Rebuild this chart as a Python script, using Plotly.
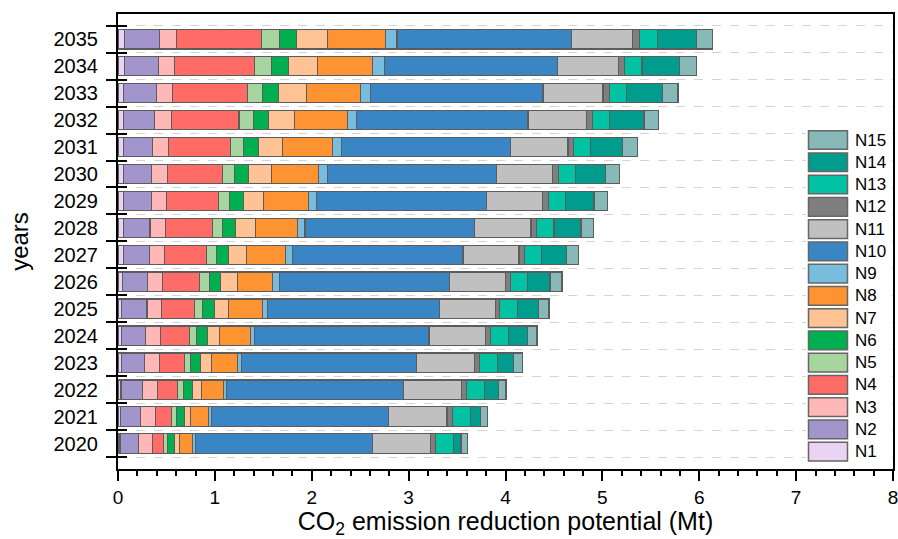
import plotly.graph_objects as go

# Years shown on the vertical axis (bottom to top)
years = [2020, 2021, 2022, 2023, 2024, 2025, 2026, 2027,
         2028, 2029, 2030, 2031, 2032, 2033, 2034, 2035]

series_names = ["N1", "N2", "N3", "N4", "N5", "N6", "N7", "N8",
                "N9", "N10", "N11", "N12", "N13", "N14", "N15"]

# CO2 emission reduction potential (Mt) of each measure, per year
n1 = [0.020, 0.022, 0.030, 0.033, 0.040, 0.040, 0.047, 0.054,
      0.054, 0.054, 0.057, 0.060, 0.060, 0.060, 0.070, 0.070]
n2 = [0.195, 0.213, 0.223, 0.237, 0.247, 0.260, 0.261, 0.268,
      0.276, 0.289, 0.292, 0.299, 0.320, 0.337, 0.345, 0.360]
n3 = [0.144, 0.152, 0.151, 0.155, 0.155, 0.149, 0.151, 0.158,
      0.160, 0.157, 0.162, 0.165, 0.169, 0.169, 0.168, 0.170]
n4 = [0.114, 0.165, 0.213, 0.258, 0.293, 0.337, 0.385, 0.433,
      0.485, 0.534, 0.571, 0.640, 0.701, 0.767, 0.827, 0.880]
n5 = [0.035, 0.052, 0.059, 0.068, 0.078, 0.086, 0.097, 0.100,
      0.105, 0.114, 0.123, 0.134, 0.148, 0.161, 0.174, 0.190]
n6 = [0.075, 0.079, 0.090, 0.100, 0.107, 0.121, 0.117, 0.131,
      0.136, 0.144, 0.142, 0.152, 0.158, 0.162, 0.172, 0.175]
n7 = [0.049, 0.068, 0.093, 0.111, 0.130, 0.144, 0.172, 0.182,
      0.200, 0.210, 0.234, 0.248, 0.262, 0.286, 0.300, 0.315]
n8 = [0.137, 0.186, 0.233, 0.271, 0.314, 0.351, 0.368, 0.406,
      0.440, 0.467, 0.491, 0.516, 0.547, 0.561, 0.574, 0.600]
n9 = [0.028, 0.025, 0.028, 0.041, 0.046, 0.052, 0.069, 0.068,
      0.074, 0.083, 0.087, 0.093, 0.099, 0.106, 0.120, 0.120]
n10 = [1.829, 1.833, 1.830, 1.810, 1.800, 1.778, 1.757, 1.762,
       1.750, 1.748, 1.744, 1.747, 1.769, 1.779, 1.790, 1.800]
n11 = [0.602, 0.602, 0.598, 0.596, 0.586, 0.578, 0.575, 0.578,
       0.584, 0.584, 0.584, 0.592, 0.602, 0.619, 0.630, 0.630]
n12 = [0.052, 0.052, 0.052, 0.054, 0.051, 0.044, 0.051, 0.055,
       0.055, 0.059, 0.059, 0.058, 0.059, 0.063, 0.060, 0.075]
n13 = [0.186, 0.189, 0.185, 0.182, 0.183, 0.186, 0.180, 0.175,
       0.181, 0.178, 0.179, 0.175, 0.181, 0.178, 0.180, 0.180]
n14 = [0.074, 0.103, 0.139, 0.169, 0.193, 0.214, 0.230, 0.260,
       0.280, 0.293, 0.309, 0.331, 0.355, 0.372, 0.390, 0.405]
n15 = [0.070, 0.075, 0.082, 0.093, 0.103, 0.110, 0.124, 0.125,
       0.130, 0.141, 0.145, 0.154, 0.148, 0.160, 0.170, 0.170]

series_values = [n1, n2, n3, n4, n5, n6, n7, n8, n9, n10,
                 n11, n12, n13, n14, n15]

colors = ["#EBD3F3", "#A295CC", "#FFB7B7", "#FF6B66", "#A7D59F",
          "#00B050", "#FFC294", "#FD9431", "#78BDDD", "#3A86C4",
          "#C0C0C0", "#7F7F7F", "#00C3A3", "#009C8E", "#86B9B8"]

x_ticks = [0, 1, 2, 3, 4, 5, 6, 7, 8]

FONT = "Arial, Liberation Sans, sans-serif"
EDGE = "#5c5c5c"

fig = go.Figure()
for name, vals, col in zip(series_names, series_values, colors):
    fig.add_trace(go.Bar(
        x=vals, y=years, name=name, orientation="h",
        marker=dict(color=col, line=dict(color=EDGE, width=1.2)),
        width=0.72, showlegend=False, hoverinfo="skip",
    ))

# Category boundaries carry the tick marks and the dashed grid
bounds = [y - 0.5 for y in years] + [years[-1] + 0.5]
y_range = [years[0] - 0.945, years[-1] + 0.935]

# Empty helper traces so the overlaying axes get drawn
for ax in ("y2", "y3"):
    fig.add_trace(go.Scatter(x=[None], y=[None], yaxis=ax, mode="lines",
                             showlegend=False, hoverinfo="skip"))

fig.update_layout(
    width=898, height=539,
    margin=dict(l=118, r=5, t=14, b=70),
    paper_bgcolor="white", plot_bgcolor="white",
    barmode="stack", bargap=0.28,
    font=dict(family=FONT, color="black"),
    xaxis=dict(
        range=[0, 8], tickvals=x_ticks, ticks="outside", ticklen=10,
        tickwidth=2, tickcolor="black", showline=True, linewidth=2,
        linecolor="black", mirror=True, showgrid=False, zeroline=False,
        tickfont=dict(size=19), automargin=False, ticklabeloverflow="allow",
        minor=dict(dtick=0.2, ticks="outside", ticklen=5, tickwidth=1.5,
                   tickcolor="black", showgrid=False),
        title=dict(text="CO<sub>2</sub> emission reduction potential (Mt)",
                   font=dict(size=25), standoff=4),
    ),
    yaxis=dict(
        range=y_range, tickvals=years, ticktext=[str(y) for y in years],
        ticks="", showline=True, linewidth=2, linecolor="black",
        mirror=True, showgrid=False, zeroline=False, automargin=False,
        tickfont=dict(size=20), ticklabelstandoff=14,
        title=dict(text="years", font=dict(size=24), standoff=18),
    ),
    yaxis2=dict(
        range=y_range, overlaying="y", anchor="x", side="left",
        tickvals=bounds, ticks="outside", ticklen=11, tickwidth=2,
        tickcolor="black", showticklabels=False, showline=False,
        showgrid=True, gridcolor="#d4d4d4", gridwidth=1, griddash="dash",
        zeroline=False,
    ),
    yaxis3=dict(
        range=y_range, overlaying="y", anchor="x", side="left",
        tickvals=bounds, ticks="inside", ticklen=9, tickwidth=2,
        tickcolor="black", showticklabels=False, showline=False,
        showgrid=False, zeroline=False,
    ),
)

# Legend box drawn inside the plot area, N15 at top down to N1
px_x0, px_w = 118, 775
px_y1, px_h = 469, 455


def px_to_paper_x(px):
    return (px - px_x0) / px_w


def px_to_paper_y(py):
    return (px_y1 - py) / px_h


shapes = [dict(type="rect", xref="paper", yref="paper",
               x0=px_to_paper_x(806), x1=px_to_paper_x(891),
               y0=px_to_paper_y(464), y1=px_to_paper_y(127),
               fillcolor="white", line=dict(width=0), layer="above")]
annotations = []
first_center, pitch, sw_h = 140.0, 22.26, 18.7
for i, (name, col) in enumerate(zip(series_names[::-1], colors[::-1])):
    cy = first_center + i * pitch
    shapes.append(dict(
        type="rect", xref="paper", yref="paper",
        x0=px_to_paper_x(808.5), x1=px_to_paper_x(847.5),
        y0=px_to_paper_y(cy + sw_h / 2), y1=px_to_paper_y(cy - sw_h / 2),
        fillcolor=col, line=dict(color="#666666", width=1.5), layer="above"))
    annotations.append(dict(
        xref="paper", yref="paper", x=px_to_paper_x(853), y=px_to_paper_y(cy),
        text=name, showarrow=False, xanchor="left", yanchor="middle",
        font=dict(size=17, family=FONT, color="black")))

fig.update_layout(shapes=shapes, annotations=annotations)

fig.write_html("out.html")
